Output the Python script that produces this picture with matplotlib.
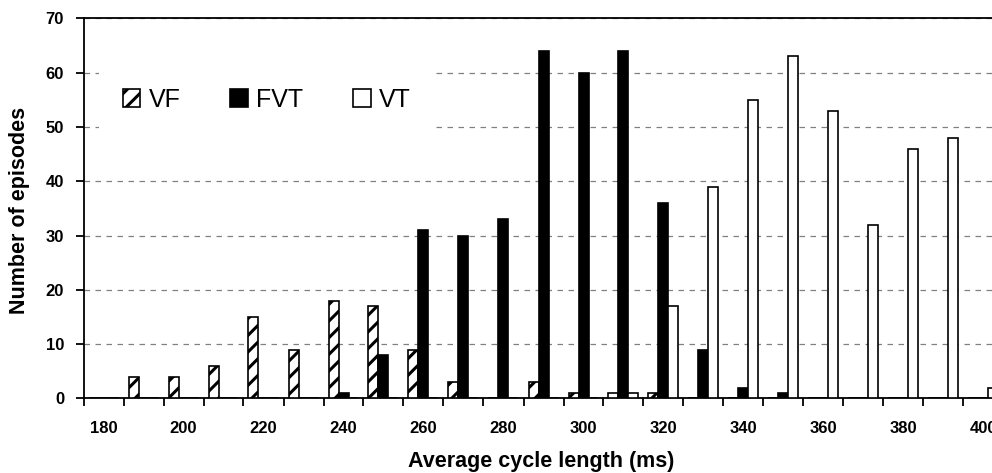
import matplotlib
matplotlib.use("Agg")
import matplotlib.pyplot as plt
import numpy as np
from matplotlib.patches import Patch

# data
cycle_length = [180, 190, 200, 210, 220, 230, 240, 250, 260, 270, 280, 290,
                300, 310, 320, 330, 340, 350, 360, 370, 380, 390, 400]
vf = [0, 4, 4, 6, 15, 9, 18, 17, 9, 3, 0, 3, 1, 1, 1, 0, 0, 0, 0, 0, 0, 0, 0]
fvt = [0, 0, 0, 0, 0, 0, 1, 8, 31, 30, 33, 64, 60, 64, 36, 9, 2, 1, 0, 0, 0, 0, 0]
vt = [0, 0, 0, 0, 0, 0, 0, 0, 0, 0, 0, 0, 0, 1, 17, 39, 55, 63, 53, 32, 46, 48, 2]
y_ticks = [0, 10, 20, 30, 40, 50, 60, 70]

plt.rcParams['font.family'] = ['Liberation Sans', 'DejaVu Sans']
plt.rcParams['hatch.linewidth'] = 2.2

fig = plt.figure(figsize=(9.92, 4.73), dpi=100)
# axes runs a bit past the right edge, like the cropped original
ax = fig.add_axes([83.5 / 992, 0.1577, 920 / 992, 0.8036])

x = np.arange(len(cycle_length))
w = 0.25
ax.bar(x - w, vf, w, color='white', edgecolor='black', hatch='//', linewidth=1.2, zorder=3)
ax.bar(x, fvt, w, color='black', edgecolor='black', linewidth=1.2, zorder=3)
ax.bar(x + w, vt, w, color='white', edgecolor='black', linewidth=1.2, zorder=3)

ax.set_xlim(-0.5, len(cycle_length) - 0.5)
ax.set_ylim(0, 70)
ax.set_yticks(y_ticks)

# labels every other category, tick marks on the category borders
ax.set_xticks(x[::2])
ax.set_xticklabels([str(c) for c in cycle_length[::2]])
ax.set_xticks(np.arange(len(cycle_length) + 1) - 0.5, minor=True)
ax.tick_params(axis='x', which='major', length=0, pad=16, labelsize=12)
ax.tick_params(axis='x', which='minor', length=6, width=1.3, direction='out')
ax.tick_params(axis='y', length=6, width=1.3, pad=8, labelsize=12)
for lab in ax.get_xticklabels() + ax.get_yticklabels():
    lab.set_fontweight('bold')

for s in ax.spines.values():
    s.set_linewidth(1.3)

ax.set_axisbelow(True)
ax.yaxis.grid(True, color='#808080', linestyle=(0, (4.4, 4.4)), linewidth=0.9)

handles = [Patch(facecolor='white', edgecolor='black', hatch='//', linewidth=1.2),
           Patch(facecolor='black', edgecolor='black', linewidth=1.2),
           Patch(facecolor='white', edgecolor='black', linewidth=1.2)]
leg = fig.legend(handles, ['VF', 'FVT', 'VT'], loc='center left',
                 bbox_to_anchor=(99 / 992, 0.7886), bbox_transform=fig.transFigure,
                 ncol=3, fontsize=18, frameon=True, fancybox=False, framealpha=1,
                 edgecolor='none', borderpad=0.95, borderaxespad=0,
                 handlelength=0.7, handleheight=0.7, handletextpad=0.33,
                 columnspacing=2.0)

fig.text(20 / 992, 0.556, 'Number of episodes', rotation=90, ha='center', va='center',
         fontsize=15.5, fontweight='bold')
fig.text(541 / 992, 0.0233, 'Average cycle length (ms)', ha='center', va='center',
         fontsize=15.5, fontweight='bold')

fig.savefig('out.png', dpi=100)
